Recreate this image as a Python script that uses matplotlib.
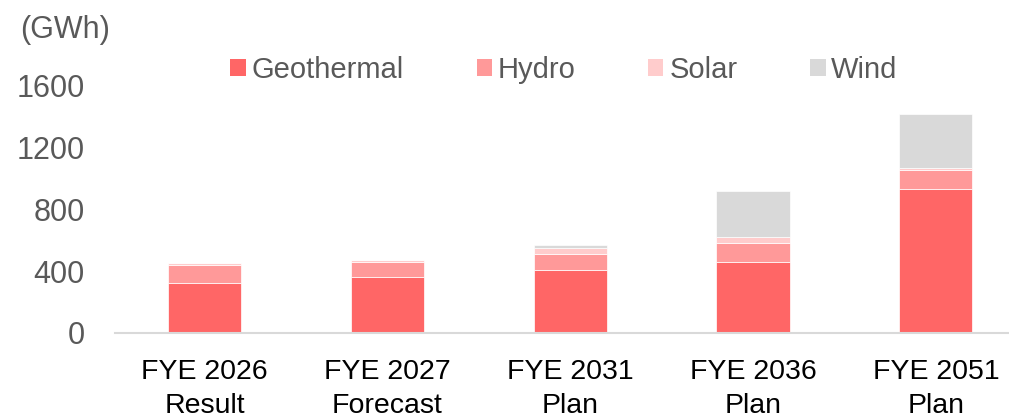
import matplotlib
matplotlib.use("Agg")
import matplotlib.pyplot as plt
from matplotlib.patches import Patch
import numpy as np

plt.rcParams['font.family'] = ['Liberation Sans', 'DejaVu Sans']

categories = ["FYE 2026\nResult", "FYE 2027\nForecast", "FYE 2031\nPlan", "FYE 2036\nPlan", "FYE 2051\nPlan"]
geothermal = [323, 360, 406, 460, 933]
hydro = [115, 96, 104, 123, 123]
solar = [15, 17, 37, 35, 15]
wind = [0, 0, 23, 300, 350]
series_names = ["Geothermal", "Hydro", "Solar", "Wind"]
colors = ["#FF6666", "#FF9999", "#FFCCCC", "#D9D9D9"]
yticks = [0, 400, 800, 1200, 1600]

fig = plt.figure(figsize=(10.09, 4.17), dpi=100)
ax = fig.add_axes([0.114, 0.2022, 0.886, 0.5916])

x = np.arange(len(categories))
bottom = np.zeros(len(categories))
for vals, c in zip([geothermal, hydro, solar, wind], colors):
    ax.bar(x, vals, width=0.4, bottom=bottom, color=c, edgecolor="white", linewidth=0.5)
    bottom += np.array(vals)

ax.set_xlim(-0.49, 4.40)
ax.set_ylim(0, 1600)
ax.set_yticks(yticks)
ax.set_yticklabels([str(v) for v in yticks])
ax.set_xticks(x)
ax.set_xticklabels(categories, linespacing=1.42)

for s in ["top", "right", "left"]:
    ax.spines[s].set_visible(False)
ax.spines["bottom"].set_color("#D9D9D9")
ax.spines["bottom"].set_linewidth(1.5)

ax.tick_params(axis="y", length=0, pad=22, labelsize=22, labelcolor="#595959")
ax.tick_params(axis="x", length=0, pad=19, labelsize=20.5, labelcolor="black")

handles = [Patch(facecolor=c, edgecolor="none", label=n) for n, c in zip(series_names, colors)]
fig.legend(handles=handles, loc="center", bbox_to_anchor=(0.559, 0.832), ncol=4,
           frameon=False, fontsize=21, labelcolor="#595959",
           handlelength=0.52, handleheight=0.52, handletextpad=0.2, columnspacing=2.5)

fig.text(20 / 1009, 1 - 30 / 417, "(GWh)", fontsize=22, color="#595959", va="center", ha="left")

fig.savefig("out.png", dpi=100)
